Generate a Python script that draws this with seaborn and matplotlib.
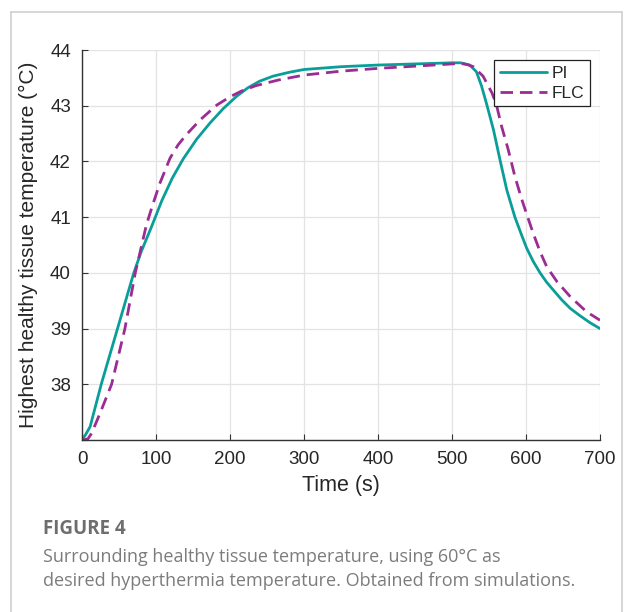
import matplotlib
matplotlib.use("Agg")
import matplotlib.pyplot as plt
import seaborn as sns
import pandas as pd
from matplotlib.lines import Line2D

# Dados (tempo em s, temperatura em °C)
tempo_pi = [0, 5, 11, 26, 48, 70, 80, 94, 108, 122, 137, 155, 173, 191, 209, 224, 240,
            258, 280, 300, 350, 400, 450, 500, 512, 524, 533, 540, 547, 556, 565, 574,
            585, 594, 601, 610, 619, 628, 637, 648, 660, 672, 686, 700]
temp_pi = [37.0, 37.1, 37.24, 38.0, 39.0, 40.0, 40.38, 40.83, 41.3, 41.7, 42.05, 42.40,
           42.69, 42.95, 43.17, 43.32, 43.44, 43.53, 43.60, 43.65, 43.70, 43.73, 43.75,
           43.77, 43.77, 43.73, 43.61, 43.35, 43.02, 42.57, 42.02, 41.49, 41.0, 40.68,
           40.44, 40.2, 40.0, 39.83, 39.69, 39.52, 39.36, 39.24, 39.11, 39.0]

tempo_flc = [0, 8, 13, 25, 40, 58, 72, 87, 95, 105, 119, 130, 141, 160, 182, 200, 215,
             235, 265, 300, 350, 400, 450, 500, 511, 520, 529, 542, 554, 560, 567, 576,
             585, 594, 601, 610, 619, 628, 642, 660, 682, 700]
temp_flc = [37.0, 37.02, 37.12, 37.5, 38.0, 39.0, 40.0, 40.86, 41.2, 41.6, 42.06, 42.3,
            42.48, 42.75, 43.01, 43.16, 43.26, 43.36, 43.46, 43.55, 43.62, 43.67, 43.71,
            43.75, 43.76, 43.74, 43.70, 43.53, 43.23, 43.02, 42.63, 42.21, 41.73, 41.33,
            41.05, 40.7, 40.38, 40.11, 39.84, 39.57, 39.30, 39.15]

COR_PI = "#0A9E99"
COR_FLC = "#9A2C93"
CINZA_TITULO = "#6e6e6e"
CINZA_TEXTO = "#7c7c7c"

sns.set_style("whitegrid")
plt.rcParams["font.family"] = ["Liberation Sans", "DejaVu Sans"]

fig = plt.figure(figsize=(6.25, 6.12), dpi=100)
ax = fig.add_axes([82 / 625, 1 - 440 / 612, 518 / 625, 390 / 612])

df_pi = pd.DataFrame({"t": tempo_pi, "T": temp_pi})
df_flc = pd.DataFrame({"t": tempo_flc, "T": temp_flc})
sns.lineplot(data=df_pi, x="t", y="T", color=COR_PI, linewidth=2, ax=ax, label="PI",
             sort=False, solid_joinstyle="round")
sns.lineplot(data=df_flc, x="t", y="T", color=COR_FLC, linewidth=2, ax=ax, label="FLC",
             sort=False, linestyle=(0, (4.5, 2.5)), dash_joinstyle="round")

ax.set_xlim(0, 700)
ax.set_ylim(37, 44)
ax.set_xticks(range(0, 701, 100))
ax.set_yticks(range(37, 45))
ax.set_yticklabels([""] + [str(v) for v in range(38, 45)])
ax.grid(True, color="#e3e3e3", linewidth=0.9)
ax.tick_params(axis="both", direction="in", length=4, labelsize=13.5, color="#333333",
               left=True, bottom=True)
ax.tick_params(axis="x", pad=8)
ax.tick_params(axis="y", pad=8)
for lado in ["top", "right"]:
    ax.spines[lado].set_visible(False)
for lado in ["left", "bottom"]:
    ax.spines[lado].set_color("#333333")
    ax.spines[lado].set_linewidth(1.0)
ax.set_xlabel("Time (s)", fontsize=15.5, labelpad=5)
ax.set_ylabel("Highest healthy tissue temperature (°C)", fontsize=15, labelpad=9)

leg = ax.legend(loc="upper right", fontsize=12.5, frameon=True, fancybox=False,
                edgecolor="#222222", framealpha=1, handlelength=2.7, borderpad=0.3,
                labelspacing=0.3, handletextpad=0.3, borderaxespad=0.6)
leg.get_frame().set_linewidth(0.9)

# Moldura do cartão
for xs, ys in [([11, 11], [612, 12]), ([11, 622], [12, 12]), ([622, 622], [12, 612])]:
    fig.add_artist(Line2D([x / 625 for x in xs], [1 - y / 612 for y in ys],
                          color="#cfcfcf", linewidth=1.2))

# Legenda da figura
fonte_legenda = ["Open Sans", "DejaVu Sans"]
fig.text(43 / 625, 1 - 529 / 612, "FIGURE 4", fontsize=13.5, fontweight="bold",
         color=CINZA_TITULO, family=fonte_legenda, va="center")
fig.text(43 / 625, 1 - 557 / 612,
         "Surrounding healthy tissue temperature, using 60°C as",
         fontsize=13, color=CINZA_TEXTO, family=fonte_legenda, va="center")
fig.text(43 / 625, 1 - 581 / 612,
         "desired hyperthermia temperature. Obtained from simulations.",
         fontsize=13, color=CINZA_TEXTO, family=fonte_legenda, va="center")

fig.savefig("out.png", dpi=100)
